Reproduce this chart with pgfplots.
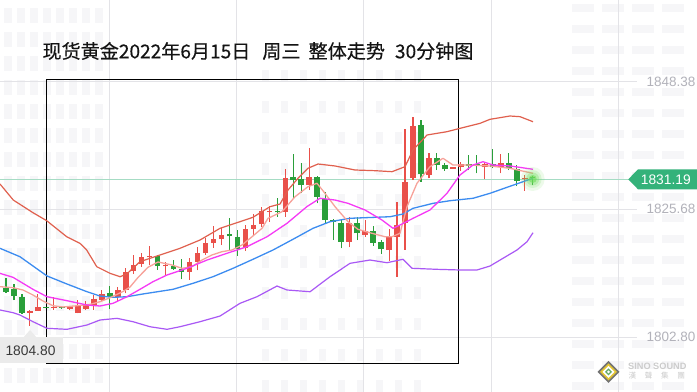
\documentclass[border=0pt]{standalone}
\usepackage{pgfplots}
\pgfplotsset{compat=1.18}
\usepackage{pgfplotstable}
\usepackage{fontspec}
\setmainfont{Liberation Sans}
\newfontfamily\cjk{Noto Sans CJK SC}
\newfontfamily\cjkt{Noto Sans CJK SC}[FakeBold=0.3]
\definecolor{cred}{HTML}{E9504A}
\definecolor{cgreen}{HTML}{2A9F3A}
\definecolor{bandup}{HTML}{E0604E}
\definecolor{bandlo}{HTML}{A958F5}
\definecolor{cblue}{HTML}{3C8CF0}
\definecolor{cmag}{HTML}{F53AF5}
\definecolor{csalmon}{HTML}{F7A29A}
\definecolor{gridc}{HTML}{E3E3E7}
\definecolor{lastline}{HTML}{A6DCC4}
\definecolor{tagg}{HTML}{34B27A}
\definecolor{labg}{HTML}{B2B2BA}
\definecolor{wm}{HTML}{F6F6F8}
\definecolor{glow}{HTML}{6FDD5A}

% candles: x = bar index, o h l c in price
\pgfplotstableread{
x o h l c
3 1807.18 1807.63 1804.80 1807.45
4 1807.50 1810.49 1807.45 1808.17
6 1807.90 1809.95 1807.63 1808.17
8 1807.81 1808.34 1807.63 1808.08
9 1807.15 1809.41 1807.04 1808.46
10 1807.86 1809.29 1807.63 1808.46
11 1808.34 1810.25 1807.63 1809.54
12 1809.41 1811.20 1809.18 1810.49
14 1810.00 1811.68 1809.18 1811.20
15 1811.20 1815.07 1810.61 1814.47
16 1814.65 1817.45 1814.06 1815.60
17 1815.84 1817.86 1815.37 1817.03
18 1817.03 1819.05 1815.60 1817.27
20 1815.40 1816.25 1813.88 1815.58
23 1814.47 1816.85 1813.04 1816.20
24 1816.20 1818.87 1814.71 1817.86
25 1817.75 1820.48 1817.45 1819.64
26 1819.64 1822.67 1818.75 1820.35
27 1820.30 1822.27 1819.23 1821.02
30 1818.64 1822.85 1818.21 1822.09
31 1822.14 1824.82 1820.96 1822.85
32 1822.98 1826.10 1822.50 1825.36
33 1825.21 1826.19 1823.39 1825.36
35 1825.18 1832.75 1824.29 1831.14
38 1829.89 1836.49 1829.05 1831.32
43 1819.82 1824.18 1818.82 1823.21
45 1821.02 1823.69 1820.71 1821.78
48 1818.34 1822.09 1816.43 1820.78
49 1820.71 1826.96 1813.57 1822.80
50 1823.10 1839.94 1818.34 1830.53
51 1831.14 1842.03 1830.83 1840.47
53 1831.73 1835.60 1831.14 1834.71
56 1832.85 1833.21 1832.85 1833.21
57 1833.21 1834.10 1832.50 1833.69
60 1833.10 1834.10 1830.96 1833.69
62 1833.10 1835.48 1832.03 1833.92
65 1831.01 1831.73 1828.92 1831.19
}\redtab
\pgfplotstableread{
x o h l c
0 1811.56 1813.34 1810.75 1810.84
1 1811.38 1812.27 1809.41 1810.18
2 1809.95 1810.49 1806.92 1807.09
5 1808.17 1808.25 1807.90 1807.99
7 1808.17 1808.34 1807.86 1807.99
13 1810.61 1811.91 1807.75 1809.89
19 1817.27 1817.39 1814.77 1815.48
21 1815.48 1816.55 1814.77 1814.89
22 1815.00 1816.73 1813.10 1814.41
28 1821.25 1824.01 1818.34 1820.78
29 1820.66 1821.91 1817.32 1818.52
34 1825.25 1827.57 1824.29 1825.07
36 1831.32 1835.48 1827.57 1830.83
37 1830.96 1833.82 1828.46 1829.94
39 1831.32 1831.55 1826.67 1827.85
40 1827.50 1828.75 1823.21 1823.69
41 1823.69 1823.82 1820.12 1823.39
42 1823.21 1823.82 1818.64 1819.82
44 1823.21 1824.18 1820.12 1821.32
46 1821.78 1822.71 1819.14 1819.64
47 1819.77 1820.12 1817.62 1818.43
52 1840.65 1841.55 1830.53 1831.90
54 1834.71 1835.60 1832.62 1833.51
55 1833.51 1833.82 1832.50 1832.75
58 1833.69 1835.30 1832.62 1833.34
59 1833.69 1835.30 1832.03 1833.46
61 1833.69 1836.32 1832.92 1833.10
63 1833.92 1835.60 1832.62 1832.92
64 1832.75 1833.51 1829.76 1830.71
66 1831.45 1831.55 1829.94 1831.19
}\greentab
\pgfplotstableread{
x y
-0.75 1830.12
0.91 1827.26
3.38 1825.00
5.10 1823.57
7.61 1820.71
9.27 1819.53
10.11 1818.34
11.37 1815.36
13.03 1814.18
14.29 1813.57
15.13 1814.06
16.79 1816.25
19.30 1817.45
21.80 1818.64
24.31 1820.12
26.82 1822.21
29.32 1823.39
30.95 1824.18
33.08 1826.07
34.34 1826.55
35.34 1829.05
36.59 1831.14
37.84 1832.93
39.10 1833.69
41.23 1833.34
43.73 1832.62
46.24 1832.50
48.37 1832.32
50.00 1833.21
51.00 1836.19
52.76 1838.87
55.26 1839.46
56.89 1840.06
59.40 1840.95
60.65 1841.67
63.16 1842.26
64.41 1842.14
66.04 1841.24
}\uptab
\pgfplotstableread{
x y
-0.75 1807.63
0.88 1807.15
1.75 1806.73
3.38 1805.54
5.14 1804.36
7.64 1804.18
10.15 1804.95
11.78 1805.84
13.91 1806.14
15.91 1805.54
18.05 1804.64
20.18 1804.18
21.80 1804.64
24.31 1805.54
26.82 1806.55
29.32 1808.82
31.45 1810.00
33.96 1811.91
35.21 1811.20
38.10 1810.89
40.60 1813.57
43.11 1815.96
45.61 1816.55
47.74 1816.07
49.75 1816.68
50.88 1815.07
54.01 1814.89
56.89 1814.77
59.02 1814.77
60.65 1815.48
62.28 1816.86
64.03 1818.34
65.29 1819.82
66.04 1821.43
}\lotab
\pgfplotstableread{
x y
-0.75 1818.64
1.75 1817.14
5.14 1813.70
7.64 1812.27
10.15 1810.89
11.78 1810.12
13.41 1809.89
15.16 1810.00
17.17 1810.49
20.93 1811.32
23.43 1812.39
25.94 1813.57
28.45 1815.07
30.95 1816.68
33.46 1818.34
35.96 1820.25
38.47 1822.21
40.60 1823.39
43.11 1824.00
48.12 1824.28
49.75 1824.76
51.00 1825.78
53.51 1826.67
55.64 1827.14
58.52 1827.57
60.65 1828.46
62.78 1829.53
64.79 1830.53
66.04 1831.14
}\bluetab
\pgfplotstableread{
x y
-0.75 1814.17
0.88 1813.46
3.38 1811.32
5.14 1810.00
7.64 1809.29
10.15 1808.52
11.78 1808.34
13.41 1808.82
15.16 1810.00
16.79 1811.32
18.42 1812.68
20.18 1813.88
22.68 1815.07
25.19 1816.55
27.69 1817.75
30.20 1818.93
32.71 1820.71
35.21 1823.10
37.72 1826.10
39.35 1827.57
41.23 1827.26
42.86 1826.67
44.99 1825.48
47.12 1823.69
48.50 1822.21
49.37 1822.80
51.00 1823.99
53.13 1825.48
55.26 1828.46
56.89 1831.73
58.52 1833.51
59.77 1834.10
61.03 1833.51
63.16 1833.34
66.04 1832.75
}\magtab
\pgfplotstableread{
x y
-0.75 1811.79
0.88 1811.61
2.13 1811.20
3.38 1810.31
4.64 1809.23
5.89 1808.39
7.14 1808.17
8.90 1808.39
10.53 1808.64
11.78 1809.11
13.03 1809.82
14.66 1810.93
15.54 1811.73
16.54 1813.43
17.79 1815.25
19.05 1816.20
20.80 1815.66
22.06 1815.07
23.31 1815.36
24.56 1816.55
25.81 1817.45
27.07 1818.04
28.32 1818.34
29.57 1819.23
30.83 1820.71
32.08 1822.21
32.83 1823.99
34.59 1825.18
36.22 1827.85
37.84 1829.64
38.97 1830.25
39.97 1828.46
41.23 1826.07
42.86 1823.39
44.11 1822.03
45.86 1821.32
47.49 1820.71
48.37 1820.71
49.37 1821.32
50.25 1826.07
51.50 1830.25
53.13 1833.21
54.76 1834.71
56.02 1833.51
57.77 1833.51
60.65 1833.34
63.16 1832.92
66.04 1832.03
}\saltab

\pgfplotsset{candle/.style n args={2}{draw=none,mark=none,forget plot,
  error bars/.cd,y dir=plus,y explicit,error mark=none,
  error bar style={draw=#1,line width=#2,solid}}}

\begin{document}
\begin{tikzpicture}
\useasboundingbox (0,0) rectangle (697bp,392bp);
\clip (0,0) rectangle (697bp,392bp);
\fill[white] (0,0) rectangle (697bp,392bp);
\begin{scope}[x=1bp,y=-1bp,shift={(0,392bp)}]
  % faint watermark windows
  \foreach \i in {0,...,7}{\foreach \j in {0,...,15}{
    \fill[wm] (4+\i*13,8+\j*24) rectangle ++(8,15);}}
  \foreach \i in {0,...,8}{\foreach \j in {0,...,10}{
    \fill[wm] (262+\i*19,70+\j*31) rectangle ++(7,12);}}
  \foreach \i in {0,...,3}{\foreach \j in {0,...,18}{
    \fill[wm] (572+\i*30,4+\j*21) rectangle ++(22,8);}}
  % grid
  \foreach \gx in {109,236,363.5,491,618}{\draw[gridc,line width=0.9bp] (\gx,0) -- (\gx,392);}
  \foreach \gy in {81.7,209.3,337}{\draw[gridc,line width=0.9bp] (0,\gy) -- (637,\gy);}
  \draw[lastline,line width=1bp] (0,179.3) -- (630,179.3);
  % frame
  \draw[black,line width=1bp] (46.7,79.3) rectangle (458.7,363.3);
\end{scope}
\begin{axis}[at={(0,0)},anchor=south west,width=697bp,height=392bp,scale only axis,hide axis,
  xmin=-0.752,xmax=86.59,ymin=1792.99,ymax=1862.97]
  % wicks
  \addplot[candle={cred}{1.1bp}] table[x=x,y=l,y error plus expr=\thisrow{h}-\thisrow{l}]{\redtab};
  \addplot[candle={cgreen}{1.1bp}] table[x=x,y=l,y error plus expr=\thisrow{h}-\thisrow{l}]{\greentab};
  % bodies
  \addplot[candle={cred}{5.6bp}] table[x=x,y=o,y error plus expr=\thisrow{c}-\thisrow{o}]{\redtab};
  \addplot[candle={cgreen}{5.6bp}] table[x=x,y=c,y error plus expr=\thisrow{o}-\thisrow{c}]{\greentab};
  % bands and averages
  \addplot[bandlo,line width=1.2bp,line join=round] table[x=x,y=y]{\lotab};
  \addplot[cblue,line width=1.3bp,line join=round] table[x=x,y=y]{\bluetab};
  \addplot[csalmon,line width=1.3bp,line join=round] table[x=x,y=y]{\saltab};
  \addplot[cmag,line width=1.3bp,line join=round] table[x=x,y=y]{\magtab};
  \addplot[bandup,line width=1.2bp,line join=round] table[x=x,y=y]{\uptab};
\end{axis}
\begin{scope}[x=1bp,y=-1bp,shift={(0,392bp)}]
  % glow at last price
  \fill[glow,opacity=0.12] (532.7,179) circle (12);
  \fill[glow,opacity=0.18] (532.7,179) circle (9);
  \fill[glow,opacity=0.3] (532.7,179) circle (6.5);
  \fill[glow,opacity=0.6] (532.7,179) circle (4);
  % title
  \node[anchor=west,inner sep=0,text=black!92] at (42.3,51)
    {\cjkt\fontsize{19.1bp}{22bp}\selectfont 现货黄金2022年6月15日\hspace{12bp}周三\hspace{8bp}整体走势\hspace{10bp}30分钟图};
  % right price labels
  \foreach \py/\pt in {81.7/1848.38,209.3/1825.68,337/1802.80}{
    \node[anchor=east,inner sep=0,text=labg] at (695.5,\py) {\fontsize{13.5bp}{15bp}\selectfont \pt};}
  \fill[tagg] (628.3,179.3) -- (638,169.3) -- (697,169.3) -- (697,189.3) -- (638,189.3) -- cycle;
  \node[inner sep=0,text=white] at (665.8,179.6) {\fontsize{13.8bp}{15bp}\selectfont 1831.19};
  % low label
  \fill[black!8] (0,336.7) rectangle (63.3,363.3);
  \fill[black!8] (24,336.8) -- (30,330) -- (36,336.8) -- cycle;
  \node[inner sep=0,text=black!78] at (30.5,350.3) {\fontsize{13.8bp}{15bp}\selectfont 1804.80};
  % logo
  \fill[black!55] (608.5,361) -- (619.5,372) -- (608.5,383) -- (597.5,372) -- cycle;
  \fill[yellow!55!brown] (608.5,363.5) -- (617,372) -- (608.5,380.5) -- (600,372) -- cycle;
  \fill[white] (608.5,366) -- (614.5,372) -- (608.5,378) -- (602.5,372) -- cycle;
  \fill[green!45!black!60] (608.5,368.5) -- (612,372) -- (608.5,375.5) -- (605,372) -- cycle;
  \fill[white] (608.5,370.5) -- (610,372) -- (608.5,373.5) -- (607,372) -- cycle;
  \node[inner sep=0,text=black!20,anchor=west] at (628,366) {\fontsize{9.2bp}{10bp}\selectfont\bfseries SINO SOUND};
  \node[inner sep=0,text=black!20,anchor=west] at (628.5,375.8) {\cjk\fontsize{7.6bp}{9bp}\selectfont 漢\hspace{8.6bp}聲\hspace{8.6bp}集\hspace{8.6bp}團};
\end{scope}
\end{tikzpicture}
\end{document}
